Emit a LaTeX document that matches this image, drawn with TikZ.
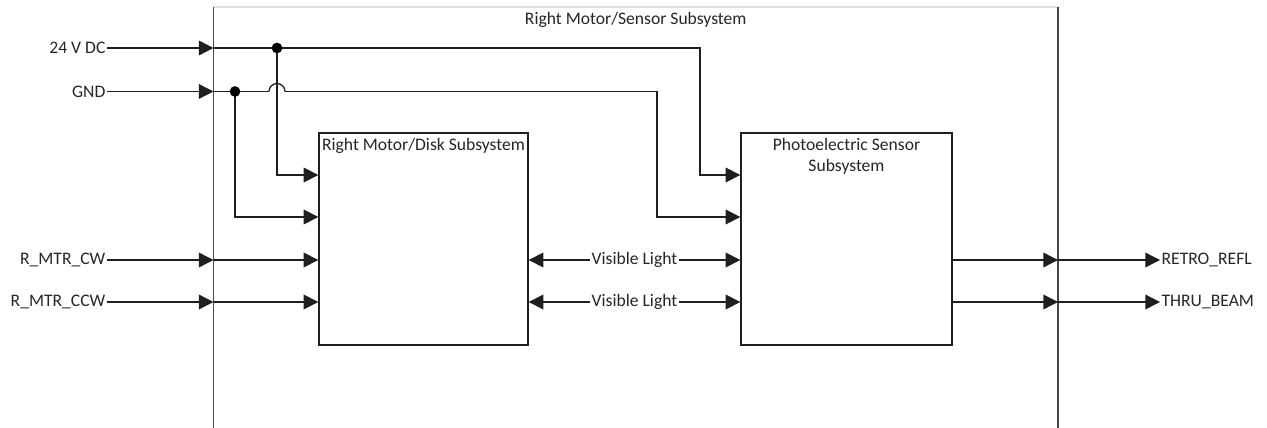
\documentclass[tikz,border=0pt]{standalone}
\usepackage{fontspec}
\setmainfont{Carlito}
\usetikzlibrary{arrows.meta,calc}

\begin{document}
\begin{tikzpicture}[x=0.75pt,y=-0.75pt,
  sig/.style={line width=1pt, draw=black!88},
  tip/.style={-{Triangle[length=11pt,width=11pt]}},
  both/.style={{Triangle[length=11pt,width=11pt]}-{Triangle[length=11pt,width=11pt]}},
  dot/.style={circle, fill=black, inner sep=0pt, minimum size=8pt},
  lbl/.style={font=\fontsize{13.2}{16.3}\selectfont, text=black!85, inner sep=1pt},
  blk/.style={draw=black!88, line width=1pt, fill=white, inner sep=0pt, minimum height=159pt},
  frame/.style={draw=black!72, line width=1.4pt}]
\useasboundingbox (0,0) rectangle (1267,428);

% enclosing subsystem frame (open at the bottom)
\coordinate (otl) at (213.5,7);
\coordinate (otr) at (1058,7);
\coordinate (obl) at (213.5,440);
\coordinate (obr) at (1058,440);
\draw[draw=black!12, line width=0.8pt] (otl) -- (otr);
\draw[frame] (otl) -- (obl);
\draw[frame] (otr) -- (obr);
\node[lbl, anchor=center] (outtitle) at ($(otl)!0.5!(otr)+(0,13)$) {Right Motor/Sensor Subsystem};

% inner blocks
\node[blk, minimum width=156.75pt] (disk) at (423.5,239) {};
\node[blk, minimum width=158.25pt] (photo) at (846.5,239) {};
\node[lbl, anchor=north] (disktitle) at ($(disk.north)+(0,4)$) {Right Motor/Disk Subsystem};
\node[lbl, anchor=north, align=center] (phototitle) at ($(photo.north)+(0,4)$) {Photoelectric Sensor\\Subsystem};

% external signal names
\node[lbl, anchor=east] (l24) at (107,48) {24 V DC};
\node[lbl, anchor=east] (lgnd) at (107,91.5) {GND};
\node[lbl, anchor=east] (lcw) at (107,260) {R\_MTR\_CW};
\node[lbl, anchor=east] (lccw) at (107,302) {R\_MTR\_CCW};
\node[lbl, anchor=west] (retro) at (1160,260) {RETRO\_REFL};
\node[lbl, anchor=west] (thru) at (1160,302) {THRU\_BEAM};

% routing points
\coordinate (j24) at (277,48);
\coordinate (jg) at (235,91.5);
\coordinate (b24) at (700,48);
\coordinate (bg) at (657,91.5);
\coordinate (hopL) at (269,91.5);
\coordinate (hopR) at (285,91.5);

% inputs crossing the frame
\draw[sig,tip] (l24.east) -- (l24.east -| otl);
\draw[sig,tip] (lgnd.east) -- (lgnd.east -| otl);
\draw[sig,tip] (lcw.east) -- (lcw.east -| otl);
\draw[sig,tip] (lccw.east) -- (lccw.east -| otl);

% supply distribution
\draw[sig,tip] (l24.east -| otl) -- (b24) |- (photo.west |- 0,175);
\draw[sig,tip] (j24) |- (disk.west |- 0,175);
\draw[sig] (lgnd.east -| otl) -- (hopL);
\draw[sig] (hopL) arc[start angle=180, end angle=0, radius=6pt];
\draw[sig,tip] (hopR) -- (bg) |- (photo.west |- 0,217);
\draw[sig,tip] (jg) |- (disk.west |- 0,217);
\node[dot] (d24) at (j24) {};
\node[dot] (dg) at (jg) {};

% motor direction commands
\draw[sig,tip] (lcw.east -| otl) -- (disk.west |- lcw.east);
\draw[sig,tip] (lccw.east -| otl) -- (disk.west |- lccw.east);

% optical paths between the blocks
\draw[sig,both] (disk.east |- 0,260) -- node[lbl, fill=white, inner sep=1.5pt] (vl1) {Visible Light} (photo.west |- 0,260);
\draw[sig,both] (disk.east |- 0,302) -- node[lbl, fill=white, inner sep=1.5pt] (vl2) {Visible Light} (photo.west |- 0,302);

% sensor outputs
\draw[sig,tip] (photo.east |- retro.west) -- (otr |- retro.west);
\draw[sig,tip] (otr |- retro.west) -- (retro.west);
\draw[sig,tip] (photo.east |- thru.west) -- (otr |- thru.west);
\draw[sig,tip] (otr |- thru.west) -- (thru.west);
\end{tikzpicture}
\end{document}
